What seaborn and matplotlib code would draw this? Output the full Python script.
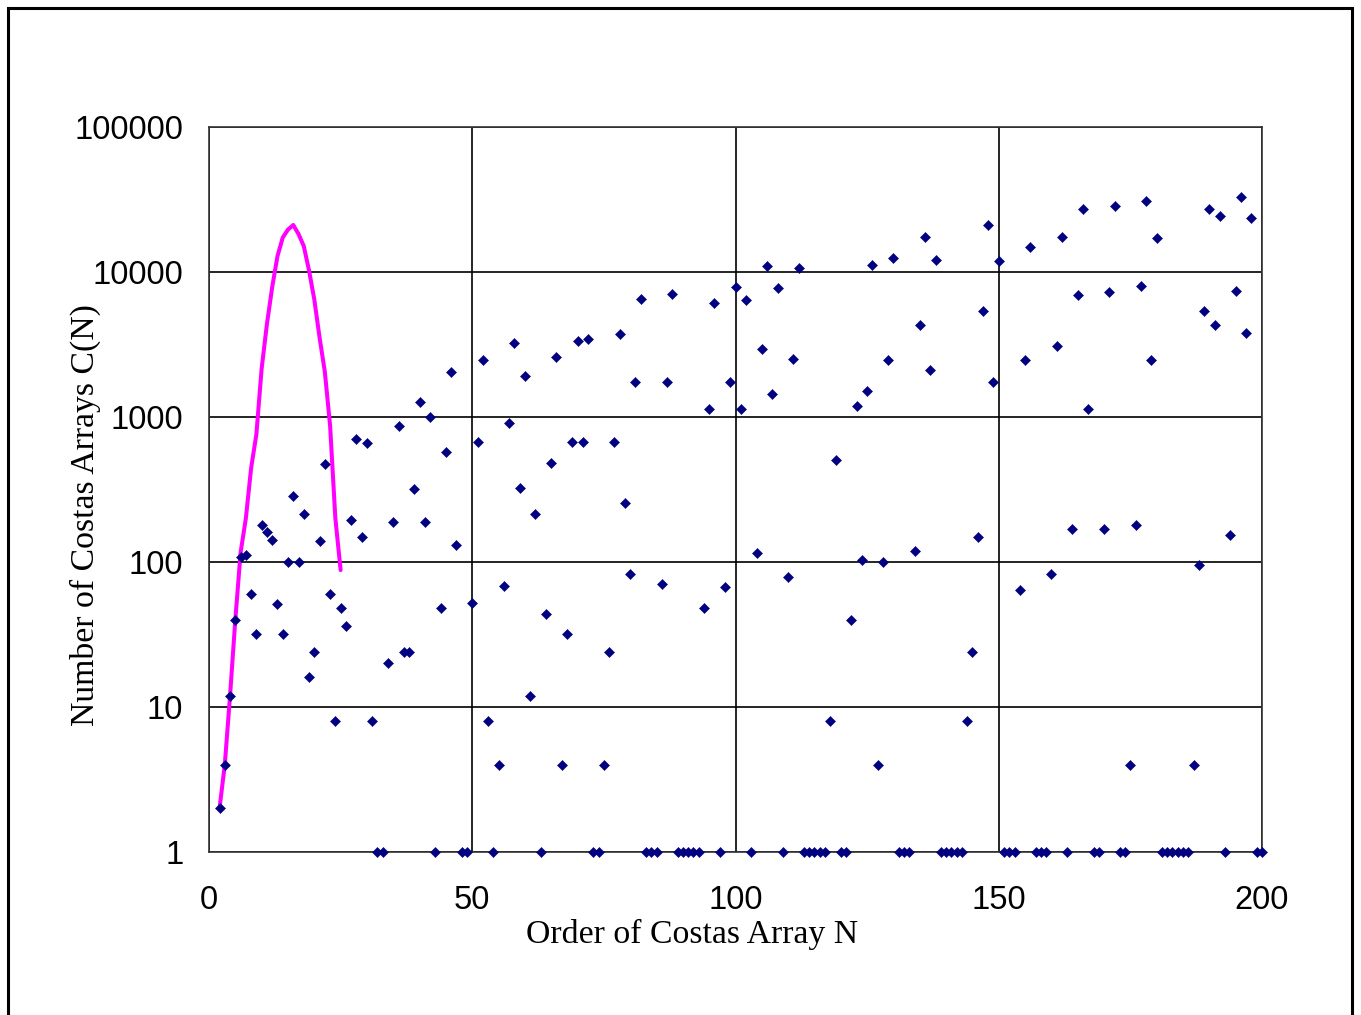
"""
Number of Costas arrays C(N) against order N: total counts from exhaustive
enumeration (magenta) and counts from the known constructions (diamonds).
"""
import matplotlib
matplotlib.use("Agg")
import matplotlib.pyplot as plt
import matplotlib.patches as mpatches
import pandas as pd
import seaborn as sns

# --- data ---
total_n = [2, 3, 4, 5, 6, 7, 8, 9, 10, 11, 12, 13, 14, 15, 16, 17, 18, 19,
           20, 21, 22, 23, 24, 25]
total_count = [2, 4, 12, 40, 116, 200, 444, 760, 2160, 4368, 7852, 12828,
               17252, 19612, 21104, 18276, 15096, 10240, 6464, 3536, 2052,
               872, 200, 88]

order_n = [
    2, 3, 4, 5, 6, 7, 8, 9, 10, 11, 12, 13, 14, 15, 16, 17, 18, 19, 20,
    21, 22, 23, 24, 25, 26, 27, 28, 29, 30, 31, 32, 33, 34, 35, 36, 37, 38, 39, 40,
    41, 42, 43, 44, 45, 46, 47, 48, 49, 50, 51, 52, 53, 54, 55, 56, 57, 58, 59, 60,
    61, 62, 63, 64, 65, 66, 67, 68, 69, 70, 71, 72, 73, 74, 75, 76, 77, 78, 79, 80,
    81, 82, 83, 84, 85, 86, 87, 88, 89, 90, 91, 92, 93, 94, 95, 96, 97, 98, 99, 100,
    101, 102, 103, 104, 105, 106, 107, 108, 109, 110, 111, 112, 113, 114, 115, 116, 117, 118, 119, 120,
    121, 122, 123, 124, 125, 126, 127, 128, 129, 130, 131, 132, 133, 134, 135, 136, 137, 138, 139, 140,
    141, 142, 143, 144, 145, 146, 147, 148, 149, 150, 151, 152, 153, 154, 155, 156, 157, 158, 159, 160,
    161, 162, 163, 164, 165, 166, 167, 168, 169, 170, 171, 172, 173, 174, 175, 176, 177, 178, 179, 180,
    181, 182, 183, 184, 185, 186, 187, 188, 189, 190, 191, 192, 193, 194, 195, 196, 197, 198, 199, 200,
]
construction_count = [
    2, 4, 12, 40, 108, 112, 60, 32, 180, 162, 142, 51, 32, 100, 287, 100, 214, 16, 24,
    140, 474, 60, 8, 48, 36, 194, 705, 148, 662, 8, 1, 1, 20, 190, 872, 24, 24, 317, 1276,
    190, 1004, 1, 48, 571, 2033, 132, 1, 1, 52, 669, 2473, 8, 1, 4, 68, 914, 3253, 322, 1918,
    12, 214, 1, 44, 479, 2606, 4, 32, 669, 3343, 669, 3435, 1, 1, 4, 24, 669, 3718, 255, 83,
    1751, 6510, 1, 1, 1, 71, 1751, 7022, 1, 1, 1, 1, 1, 48, 1135, 6110, 1, 67, 1751, 7923,
    1135, 6443, 1, 115, 2930, 10990, 1442, 7762, 1, 79, 2500, 10660, 1, 1, 1, 1, 1, 8, 505, 1,
    1, 40, 1197, 103, 1504, 11225, 4, 100, 2473, 12420, 1, 1, 1, 119, 4308, 17430, 2110, 12100, 1, 1,
    1, 1, 1, 8, 24, 148, 5410, 21200, 1751, 11910, 1, 1, 1, 64, 2473, 14950, 1, 1, 1, 83,
    3104, 17430, 1, 168, 6975, 27190, 1141, 1, 1, 170, 7315, 28650, 1, 1, 4, 179, 7966, 31030, 2473, 17150,
    1, 1, 1, 1, 1, 1, 4, 96, 5410, 27190, 4330, 24330, 1, 154, 7360, 32760, 3815, 23560, 1, 1,
]

x_ticks = [0, 50, 100, 150, 200]
y_ticks = [1, 10, 100, 1000, 10000, 100000]
y_tick_labels = ["1", "10", "100", "1000", "10000", "100000"]

sns.set_theme(style="white")
plt.rcParams["font.family"] = ["Liberation Sans", "DejaVu Sans"]

totals = pd.DataFrame({"N": total_n, "count": total_count})
points = pd.DataFrame({"N": order_n, "count": construction_count})

fig = plt.figure(figsize=(13.61, 10.15), dpi=100)
ax = fig.add_axes([209 / 1361, 1 - 852 / 1015, (1262 - 209) / 1361, (852 - 127) / 1015])

ax.set_yscale("log")
sns.lineplot(data=totals, x="N", y="count", ax=ax, color="#ff00ff",
             linewidth=2.9, sort=False, estimator=None, zorder=3)
sns.scatterplot(data=points, x="N", y="count", ax=ax, marker="D", s=26,
                color="#000080", edgecolor="#000080", linewidth=0.4, zorder=4,
                clip_on=False)

ax.set_xlim(0, 200)
ax.set_ylim(1, 100000)
ax.set_xticks(x_ticks)
ax.set_xticklabels([str(t) for t in x_ticks])
ax.set_yticks(y_ticks)
ax.set_yticklabels(y_tick_labels)
ax.minorticks_off()
ax.tick_params(axis="both", which="major", direction="out", length=7.5,
               width=1.2, color="black", labelsize=23.5, labelcolor="black")
ax.tick_params(axis="x", pad=16)
ax.tick_params(axis="y", pad=11)

ax.grid(True, which="major", color="black", linewidth=1.2)
for spine in ax.spines.values():
    spine.set_color("#333333")
    spine.set_linewidth(1.2)

serif = ["Liberation Serif", "DejaVu Serif"]
ax.set_xlabel("Order of Costas Array N", fontsize=24.3, family=serif, color="black")
ax.set_ylabel("Number of Costas Arrays C(N)", fontsize=24.3, family=serif, color="black")
ax.xaxis.set_label_coords((692 - 209) / 1053, (852 - 934) / 725)
ax.xaxis.label.set_verticalalignment("center")
ax.yaxis.set_label_coords((85 - 209) / 1053, (852 - 515) / 725)
ax.yaxis.label.set_verticalalignment("center")
ax.yaxis.label.set_horizontalalignment("center")

# chart-area frame as in the spreadsheet export (bottom edge falls off the image)
frame = mpatches.Rectangle((8 / 1361, -0.05), (1352 - 8) / 1361, 1.05 - 8 / 1015,
                           transform=fig.transFigure, fill=False,
                           edgecolor="black", linewidth=2.2)
fig.patches.append(frame)

fig.savefig("out.png", dpi=100, facecolor="white")
plt.close(fig)
